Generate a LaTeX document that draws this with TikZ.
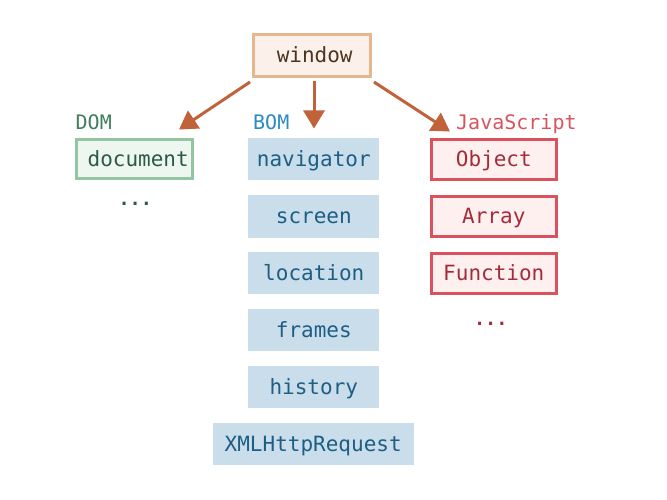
\documentclass[tikz,border=0pt]{standalone}
\usepackage{fontspec}
\setmonofont{DejaVu Sans Mono}
\usetikzlibrary{arrows.meta}
\definecolor{winfill}{HTML}{FBF1EA}
\definecolor{windraw}{HTML}{E6B68E}
\definecolor{wintext}{HTML}{4A3520}
\definecolor{arrowc}{HTML}{C0623A}
\definecolor{domc}{HTML}{3E7F5C}
\definecolor{domdraw}{HTML}{93C5A2}
\definecolor{domfill}{HTML}{EEF6F0}
\definecolor{domtext}{HTML}{2C5A48}
\definecolor{bomc}{HTML}{2B8BC2}
\definecolor{bomfill}{HTML}{C9DDEA}
\definecolor{bomtext}{HTML}{1E5E85}
\definecolor{jsc}{HTML}{D9525E}
\definecolor{jsfill}{HTML}{FFF0F0}
\definecolor{jstext}{HTML}{A62B3A}
\tikzset{
  every node/.style={font=\ttfamily\fontsize{21}{25}\selectfont},
  box/.style={rectangle, inner sep=0pt, text height=14pt, text depth=0pt},
  winbox/.style={box, draw=windraw, fill=winfill, text=wintext, line width=3pt, minimum width=117pt, minimum height=42pt, text height=13pt},
  dombox/.style={box, draw=domdraw, fill=domfill, text=domtext, line width=3pt, minimum width=116pt, minimum height=39pt},
  bombox/.style={box, fill=bomfill, text=bomtext, minimum width=131pt, minimum height=42pt},
  jsbox/.style={box, draw=jsc, fill=jsfill, text=jstext, line width=3pt, minimum width=124.5pt, minimum height=39.5pt},
  grouplabel/.style={anchor=base west, inner sep=0pt, font=\ttfamily\fontsize{20}{24}\selectfont},
  dots/.style={anchor=base, inner sep=0pt, font=\ttfamily\bfseries\fontsize{18.5}{22}\selectfont},
  conn/.style={draw=arrowc, line width=3pt, -{Triangle[length=18pt,width=21pt]}}
}
\begin{document}
\begin{tikzpicture}[x=1pt,y=-1pt]
\useasboundingbox (0,0) rectangle (667,500);
\node[winbox] (window) at (311.7,55.8) {\hspace*{6pt}window};
\node[grouplabel, text=domc] (domlbl) at (75.5,130) {DOM};
\node[grouplabel, text=bomc] (bomlbl) at (253,129.5) {BOM};
\node[grouplabel, text=jsc] (jslbl) at (456,129.5) {JavaScript};
\node[dombox] (document) at (134.7,159.2) {\hspace*{7pt}document};
\node[dots, text=domtext] (domdots) at (135.3,205.5) {...};
\node[bombox] (navigator) at (313.8,159.5) {navigator};
\node[bombox] (screen) at (313.8,216.5) {screen};
\node[bombox] (location) at (313.8,273.3) {location};
\node[bombox] (frames) at (313.8,330.3) {frames};
\node[bombox] (history) at (313.8,387.3) {history};
\node[bombox, minimum width=201pt] (xhr) at (313.2,444.3) {XMLHttpRequest};
\node[jsbox] (object) at (493.8,159.5) {Object};
\node[jsbox] (array) at (493.8,216.5) {Array};
\node[jsbox] (function) at (493.8,273.3) {Function};
\node[dots, text=jstext] (jsdots) at (490.8,325) {...};
\coordinate (sdom) at (250,82);
\coordinate (sbom) at (314,81);
\coordinate (sjs) at (374,82);
\coordinate (tdom) at (179,129.5);
\coordinate (tbom) at (314,128.5);
\coordinate (tjs) at (450,131.5);
\draw[conn] (sdom) -- (tdom);
\draw[conn] (sbom) -- (tbom);
\draw[conn] (sjs) -- (tjs);
\end{tikzpicture}
\end{document}
